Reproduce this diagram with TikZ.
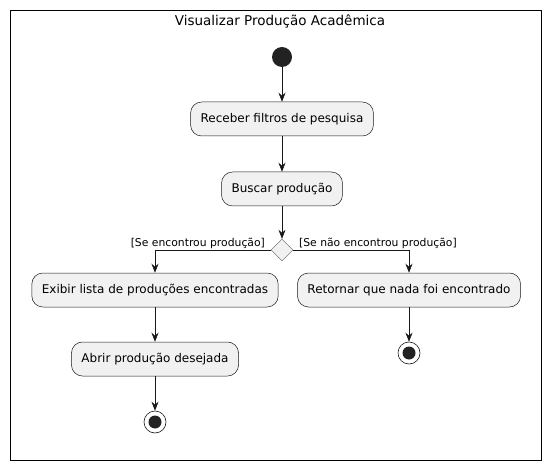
\documentclass[tikz,border=0pt]{standalone}
\usepackage{fontspec}
\setmainfont{DejaVu Sans}
\usetikzlibrary{arrows.meta,positioning,shapes.geometric}
\definecolor{actfill}{HTML}{F1F1F1}
\definecolor{ink}{HTML}{181818}
\definecolor{dot}{HTML}{222222}
\tikzset{
  action/.style={draw=ink,fill=actfill,line width=0.5pt,rounded corners=11pt,
                 minimum height=34pt,inner xsep=10pt,font=\fontsize{12}{14}\selectfont},
  decision/.style={draw=ink!70,fill=actfill,diamond,minimum width=22pt,
                   minimum height=22pt,inner sep=0pt},
  startdot/.style={circle,fill=dot,minimum size=20pt,inner sep=0pt},
  stopdot/.style={circle,draw=ink,fill=white,line width=0.6pt,minimum size=22pt,
                  inner sep=0pt,path picture={\fill[dot] (path picture bounding box.center) circle (6.5pt);}},
  flow/.style={-{Stealth[length=9pt,width=7pt,inset=3pt]},draw=ink,line width=0.6pt},
  guard/.style={font=\fontsize{10.8}{12}\selectfont,inner sep=1pt}
}
\begin{document}
\begin{tikzpicture}[x=1pt,y=-1pt]
  \path[use as bounding box] (0,0) rectangle (551,470);
  \draw[line width=0.8pt] (10,10) rectangle (541,460);
  \node[font=\fontsize{13.5}{15}\selectfont] (title) at (280,21) {Visualizar Produção Acadêmica};

  \node[startdot] (start) at (282,57) {};
  \node[action] (filtros) at (282,119) {Receber filtros de pesquisa};
  \node[action] (buscar) at (282,189) {Buscar produção};
  \node[decision] (dec) at (282,250) {};
  \node[action] (exibir) at (155,290) {Exibir lista de produções encontradas};
  \node[action] (retornar) at (409,290) {Retornar que nada foi encontrado};
  \node[action] (abrir) at (155,359) {Abrir produção desejada};
  \node[stopdot] (fim1) at (155,422) {};
  \node[stopdot] (fim2) at (409,353) {};

  \draw[flow] (start) -- (filtros);
  \draw[flow] (filtros) -- (buscar);
  \draw[flow] (buscar) -- (dec);
  \draw[flow] (dec.west) -| node[guard,pos=0.02,anchor=south east] {[Se encontrou produção]} (exibir.north);
  \draw[flow] (dec.east) -| node[guard,pos=0.02,anchor=south west] {[Se não encontrou produção]} (retornar.north);
  \draw[flow] (exibir) -- (abrir);
  \draw[flow] (abrir) -- (fim1);
  \draw[flow] (retornar) -- (fim2);
\end{tikzpicture}
\end{document}
